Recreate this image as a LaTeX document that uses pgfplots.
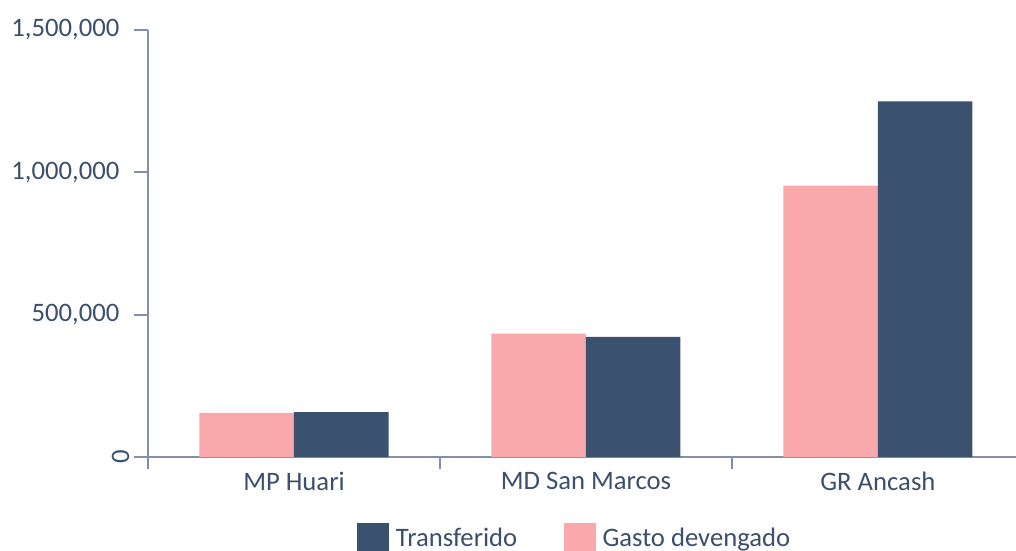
\documentclass[border=0pt]{standalone}
\usepackage{pgfplots}
\pgfplotsset{compat=1.18}
\usepackage{fontspec}
\setmainfont{Carlito}
\definecolor{darkbar}{HTML}{3B5170}
\definecolor{pinkbar}{HTML}{F9A8AB}
\definecolor{txt}{HTML}{3B4F6E}
\definecolor{axiscol}{HTML}{8290AA}
\begin{document}
\begin{tikzpicture}
\begin{axis}[
  scale only axis, width=651pt, height=320.25pt,
  xmin=-0.5, xmax=2.473, ymin=0, ymax=1500000,
  enlargelimits=false,
  ybar=0pt, bar width=70.9pt,
  axis x line=bottom, axis y line=left,
  axis line style={-, draw=axiscol, line width=1.4pt},
  tick align=outside,
  xtick={0,1,2}, xticklabels={MP Huari, MD San Marcos, GR Ancash},
  minor xtick={-0.5,0.5,1.5},
  major tick length=10.5pt, minor tick length=9pt,
  major x tick style={draw=none},
  minor x tick style={draw=axiscol, line width=1.4pt},
  major y tick style={draw=axiscol, line width=1.4pt},
  ytick={500000,1000000,1500000},
  yticklabels={{500,000},{1,000,000},{1,500,000}},
  scaled y ticks=false,
  extra y ticks={0}, extra y tick labels={0},
  extra y tick style={yticklabel style={xshift=7.5pt, rotate=90, anchor=south}},
  ticklabel style={font=\fontsize{20}{24}\selectfont, text=txt},
  yticklabel style={xshift=-7.5pt},
  xticklabel style={yshift=3pt},
  legend style={draw=none, at={(0.492,-0.147)}, anchor=north, legend columns=2,
    font=\fontsize{20}{24}\selectfont, text=txt,
    /tikz/every odd column/.append style={column sep=3pt},
    /tikz/every even column/.append style={column sep=33pt}},
  reverse legend,
]
\addplot[fill=pinkbar, draw=none,
  legend image code/.code={\fill[pinkbar] (0pt,-12pt) rectangle (24pt,12pt);}]
  coordinates {(0,155000) (1,433000) (2,953000)};
\addlegendentry{Gasto devengado}
\addplot[fill=darkbar, draw=none,
  legend image code/.code={\fill[darkbar] (0pt,-12pt) rectangle (24pt,12pt);}]
  coordinates {(0,158000) (1,422000) (2,1249000)};
\addlegendentry{Transferido}
\coordinate (sw) at (rel axis cs:0,0);
\coordinate (ne) at (rel axis cs:1,1);
\end{axis}
\pgfresetboundingbox
\useasboundingbox ([xshift=-111pt,yshift=-69.75pt]sw) rectangle ([yshift=22.5pt]ne);
\end{tikzpicture}
\end{document}
